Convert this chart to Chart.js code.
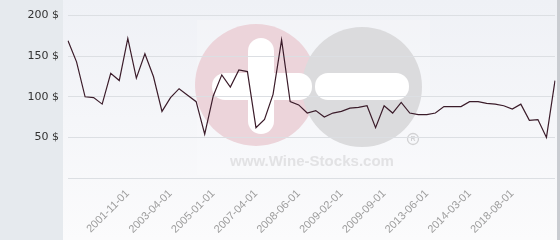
<!DOCTYPE html>
<html>
<head>
<meta charset="utf-8">
<script src="https://cdn.jsdelivr.net/npm/chart.js"></script>
<style>
  html, body { margin: 0; padding: 0; background: #fff; }
  #wrap { width: 560px; height: 240px; position: relative; }
</style>
</head>
<body>
<div id="wrap"><canvas id="myChart" width="560" height="240"></canvas></div>
<script>
    // prices, one per sale
    const prices = [169, 143, 100, 99, 91, 129, 120, 172, 123, 153, 125, 82, 99, 110, 102, 94, 54, 101, 127,
        112, 133, 131, 62, 72, 103, 170, 94, 90, 80, 83, 75, 80, 82, 86, 87, 89, 62, 89, 80, 93,
        80, 78, 78, 80, 88, 88, 88, 94, 94, 92, 91, 89, 85, 91, 71, 72, 50, 120]
    // the dates that show on the x axis
    const tickDates = ['2001-11-01', '2003-04-01', '2005-01-01', '2007-04-01', '2008-06-01',
        '2009-02-01', '2009-09-01', '2013-06-01', '2014-03-01', '2018-08-01']
    const firstTick = 7
    const tickStep = 5
    const yTicks = [0, 50, 100, 150, 200]

    let labels = prices.map(() => '')
    tickDates.forEach((d, i) => { labels[firstTick + i * tickStep] = d })

    const backdrop = {
        id: 'backdrop',
        beforeDraw(chart) {
            const ctx = chart.ctx
            ctx.save()
            let g = ctx.createLinearGradient(0, 0, 0, 240)
            g.addColorStop(0, '#eff1f6')
            g.addColorStop(1, '#fbfbfc')
            ctx.fillStyle = g
            ctx.fillRect(63, 0, 495, 240)
            ctx.fillStyle = '#e6eaee'
            ctx.fillRect(0, 0, 63, 240)
            ctx.fillStyle = '#c9ccd1'
            ctx.fillRect(557, 0, 3, 240)

            // watermark
            ctx.fillStyle = 'rgba(255,255,255,0.2)'
            ctx.fillRect(197, 20, 233, 155)
            ctx.fillStyle = '#ecd4da'
            ctx.beginPath(); ctx.arc(256, 85, 61, 0, Math.PI * 2); ctx.fill()
            ctx.fillStyle = '#dbdbdd'
            ctx.beginPath(); ctx.arc(362, 87, 60, 0, Math.PI * 2); ctx.fill()
            ctx.fillStyle = '#ffffff'
            ctx.beginPath(); ctx.roundRect(248, 38, 26, 96, 13); ctx.fill()
            ctx.beginPath(); ctx.roundRect(212, 73, 100, 27, 13); ctx.fill()
            ctx.beginPath(); ctx.roundRect(315, 73, 94, 27, 13); ctx.fill()
            ctx.fillStyle = '#e2e2e4'
            ctx.font = 'bold 15px "Liberation Sans", Arial, sans-serif'
            ctx.textBaseline = 'alphabetic'
            ctx.textAlign = 'left'
            let txt = 'www.Wine-Stocks.com'
            let w = ctx.measureText(txt).width
            ctx.save()
            ctx.translate(230, 166)
            ctx.scale(164 / w, 1)
            ctx.fillText(txt, 0, 0)
            ctx.restore()
            ctx.strokeStyle = '#d2d2d4'
            ctx.lineWidth = 1.3
            ctx.beginPath(); ctx.arc(413, 139, 5.5, 0, Math.PI * 2); ctx.stroke()
            ctx.fillStyle = '#d2d2d4'
            ctx.font = 'bold 7px "Liberation Sans", sans-serif'
            ctx.textAlign = 'center'
            ctx.textBaseline = 'middle'
            ctx.fillText('R', 413, 139.5)
            ctx.restore()
        }
    }

    const config = {
        type: 'line',
        data: {
            labels: labels,
            datasets: [{
                data: prices,
                borderColor: '#3b1c2a',
                borderWidth: 1.2,
                pointRadius: 0,
                tension: 0,
                fill: false
            }]
        },
        options: {
            responsive: false,
            animation: false,
            layout: { padding: { top: 13, right: 5, left: 0, bottom: 0 } },
            plugins: { legend: { display: false }, tooltip: { enabled: false } },
            scales: {
                x: {
                    grid: { display: false },
                    border: { display: false },
                    afterFit(scale) {
                        scale.height = 62
                        scale.paddingLeft = 0
                        scale.paddingRight = 0
                    },
                    ticks: {
                        autoSkip: false,
                        maxRotation: 45,
                        minRotation: 45,
                        padding: 1,
                        color: '#9d9d9d',
                        font: { family: '"Liberation Sans", Arial, sans-serif', size: 11 }
                    }
                },
                y: {
                    min: yTicks[0],
                    max: yTicks[yTicks.length - 1],
                    afterBuildTicks(scale) { scale.ticks = yTicks.map(v => ({ value: v })) },
                    afterFit(scale) { scale.width = 68 },
                    grid: { color: '#dcdfe3', lineWidth: 1, drawTicks: false },
                    border: { display: false },
                    ticks: {
                        padding: 9,
                        color: '#333',
                        font: { family: '"DejaVu Sans", sans-serif', size: 11 },
                        callback: v => v === 0 ? '' : v + ' $'
                    }
                }
            }
        },
        plugins: [backdrop]
    }

    const myChart = new Chart(document.getElementById('myChart'), config)
</script>
</body>
</html>
